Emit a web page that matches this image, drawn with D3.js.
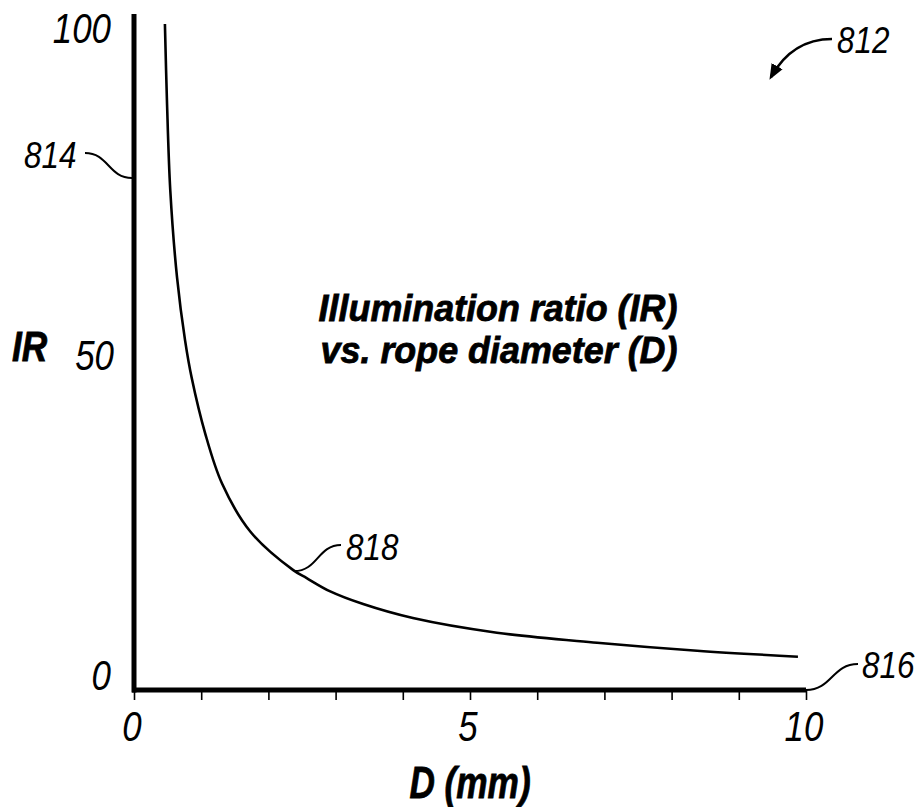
<!DOCTYPE html>
<html>
<head>
<meta charset="utf-8">
<script src="https://cdn.jsdelivr.net/npm/d3@7"></script>
<style>
  body { margin: 0; background: #fff; }
  text { font-family: "Liberation Sans", Arial, sans-serif; font-style: italic; fill: #000; }
  .bold { font-weight: bold; stroke: #000; stroke-width: 0.8; }
</style>
</head>
<body>
<div id="chart"></div>
<script>
// rope diameter D (mm) and illumination ratio IR
var diameter = [0.46, 0.49, 0.54, 0.64, 0.76, 0.86, 1.06, 1.31, 1.73, 2.37, 2.57, 2.92, 3.41, 4.15, 5.40, 6.89, 8.38, 9.88];
var ratio    = [100, 88.6, 75.0, 62.0, 52.5, 46.8, 38.5, 31.0, 23.8, 18.0, 16.8, 14.8, 12.9, 10.8, 8.6, 7.1, 5.9, 5.0];

var xTicks = [0, 1, 2, 3, 4, 5, 6, 7, 8, 9, 10];
var xTickLabels = [0, 5, 10];
var yTickLabels = [0, 50, 100];
var titleLines = ["Illumination ratio (IR)", "vs. rope diameter (D)"];

var size = {
  width: 923,
  height: 807,
  left: 134,
  right: 806,
  top: 24,
  bottom: 690
};

var data = [];
for (var i = 0; i < diameter.length; i++) {
  data.push({d: diameter[i], ir: ratio[i]});
}

var xScale = d3.scaleLinear().domain([0, 10]).range([size.left, size.right]);
var yScale = d3.scaleLinear().domain([0, 100]).range([size.bottom, size.top]);

var svg = d3.select("#chart")
  .append("svg")
  .attr("width", size.width)
  .attr("height", size.height);

// condensed italic text, squeezed horizontally
function label(x, y, str, fs, anchor, bold, sx) {
  return svg.append("text")
    .attr("class", bold ? "bold" : null)
    .attr("transform", "translate(" + x + "," + y + ") scale(" + (sx || 0.83) + ",1)")
    .attr("text-anchor", anchor || "start")
    .attr("font-size", fs)
    .text(str);
}

// x axis: thick line, small ticks hanging below
var xAxis = d3.axisBottom(xScale)
  .tickValues(xTicks)
  .tickSize(10)
  .tickFormat("");

var gx = svg.append("g")
  .attr("transform", "translate(0," + size.bottom + ")")
  .call(xAxis);
gx.select(".domain").remove();
gx.selectAll(".tick line").attr("stroke", "#000").attr("stroke-width", 1.6);

svg.append("line")
  .attr("x1", xScale(0) - 2)
  .attr("x2", xScale(10))
  .attr("y1", size.bottom)
  .attr("y2", size.bottom)
  .attr("stroke", "#000")
  .attr("stroke-width", 5);

// y axis: plain thick line
svg.append("line")
  .attr("x1", size.left)
  .attr("x2", size.left)
  .attr("y1", 14)
  .attr("y2", size.bottom + 2.5)
  .attr("stroke", "#000")
  .attr("stroke-width", 5);

// tick labels
xTickLabels.forEach(function (d) {
  label(xScale(d) - 2, 741, d, 42, "middle");
});

var yLabY = {0: 690, 50: 370, 100: 43};
yTickLabels.forEach(function (d) {
  label(d === 50 ? 114 : 111, yLabY[d], d, 42, "end");
});

// axis titles
label(12, 361, "IR", 42, "start", true, 0.84);
label(470, 798, "D (mm)", 44, "middle", true, 0.8);

// curve title, two lines
titleLines.forEach(function (t, i) {
  label(498 + i, 321 + i * 42, t, 37, "middle", true, 0.97);
});

// the curve
var line = d3.line()
  .x(function (d) { return xScale(d.d); })
  .y(function (d) { return yScale(d.ir); })
  .curve(d3.curveCatmullRom.alpha(0.5));

svg.append("path")
  .datum(data)
  .attr("d", line)
  .attr("fill", "none")
  .attr("stroke", "#000")
  .attr("stroke-width", 2.6);

// reference numerals with leader lines
var leader = function (x1, y1, x2, y2) {
  var mx = (x1 + x2) / 2;
  return "M" + x1 + "," + y1 + " C" + mx + "," + y1 + " " + mx + "," + y2 + " " + x2 + "," + y2;
};

var p818 = data[9];
svg.append("path")
  .attr("d", leader(341, 545, xScale(p818.d) + 1, yScale(p818.ir) + 1))
  .attr("fill", "none").attr("stroke", "#000").attr("stroke-width", 2);
label(346, 560, "818", 37, "start", false, 0.85);

svg.append("path")
  .attr("d", leader(85, 153, size.left - 2, 178))
  .attr("fill", "none").attr("stroke", "#000").attr("stroke-width", 2);
label(24, 168, "814", 37, "start", false, 0.85);

svg.append("path")
  .attr("d", leader(xScale(10), size.bottom, 858, 664))
  .attr("fill", "none").attr("stroke", "#000").attr("stroke-width", 2);
label(862, 678, "816", 37, "start", false, 0.85);

// 812 with curved arrow
svg.append("defs").append("marker")
  .attr("id", "arrow")
  .attr("viewBox", "0 0 10 10")
  .attr("refX", 8)
  .attr("refY", 5)
  .attr("markerWidth", 6)
  .attr("markerHeight", 6)
  .attr("orient", "auto")
  .append("path")
  .attr("d", "M0,1 L10,5 L0,9 Z")
  .attr("fill", "#000");

svg.append("path")
  .attr("d", "M832,39 C805,39 785,52 771,77")
  .attr("fill", "none").attr("stroke", "#000").attr("stroke-width", 2.6)
  .attr("marker-end", "url(#arrow)");
label(837, 53, "812", 37, "start", false, 0.85);
</script>
</body>
</html>
